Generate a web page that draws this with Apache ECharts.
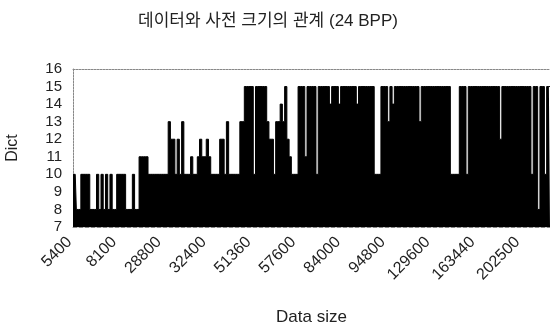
<!DOCTYPE html>
<html>
<head>
<meta charset="utf-8">
<script src="https://cdn.jsdelivr.net/npm/echarts@6/dist/echarts.min.js"></script>
<style>
  html, body { margin: 0; padding: 0; background: #fff; }
  #chart { width: 550px; height: 328px; }
</style>
</head>
<body>
<div id="chart"></div>
<script>
// x tick labels (one every 20 columns)
var tickLabels = ['5400','8100','28800','32400','51360','57600','84000','94800','129600','163440','202500'];
var labelEvery = 20;

// top of the black band per column (bottom is 7 everywhere)
var dictMax = [
  10,10,8,8,10,10,10,10,8,8,
  8,10,8,10,8,10,8,10,8,8,
  10,10,10,10,8,8,8,10,8,8,
  11,11,11,11,10,10,10,10,10,10,
  10,10,10,13,12,12,10,12,10,13,
  10,10,10,11,10,10,11,12,11,11,
  12,11,10,10,10,10,12,12,10,13,
  10,10,10,10,10,13,13,15,15,15,
  15,10,15,15,15,15,15,13,12,12,
  10,13,13,14,13,15,12,11,10,10,
  10,15,15,15,11,15,15,15,15,10,
  15,15,15,15,15,14,15,15,15,14,
  15,15,15,15,15,15,15,14,15,15,
  15,15,15,15,15,10,10,10,15,15,
  15,13,15,14,15,15,15,15,15,15,
  15,15,15,15,15,13,15,15,15,15,
  15,15,15,15,15,15,15,15,15,10,
  10,10,10,15,15,15,10,15,15,15,
  15,15,15,15,15,15,15,15,15,15,
  15,12,15,15,15,15,15,15,15,15,
  15,15,15,15,15,10,15,15,8,15,
  15,10,15,15
];

var font = "'Liberation Sans', 'Noto Sans CJK KR', sans-serif";
var columns = dictMax.map(function (v, i) { return i; });

var myChart = echarts.init(document.getElementById('chart'));

var option = {
    animation: false,
    title: {
        text: '데이터와 사전 크기의 관계 (24 BPP)',
        left: 263,
        textAlign: 'center',
        top: 8,
        textStyle: {
            fontFamily: font,
            fontSize: 17,
            fontWeight: 'normal',
            color: '#222'
        }
    },
    grid: {
        left: 73,
        right: 0,
        top: 69,
        bottom: 101,
        outerBoundsMode: 'none'
    },
    xAxis: [{
        type: 'category',
        data: columns,
        boundaryGap: false,
        name: 'Data size',
        nameLocation: 'middle',
        nameGap: 82,
        nameTextStyle: { fontFamily: font, fontSize: 17, color: '#222' },
        axisLine: { lineStyle: { color: '#888', type: 'dashed' } },
        axisTick: { show: false },
        axisLabel: {
            interval: labelEvery - 1,
            rotate: 45,
            margin: 9,
            padding: [0, 5, 0, 0],
            fontFamily: font,
            fontSize: 16,
            color: '#222',
            formatter: function (v) {
                return tickLabels[Math.round(v / labelEvery)];
            }
        },
        splitLine: { show: false }
    }, {
        // top frame line
        type: 'category',
        position: 'top',
        data: columns,
        boundaryGap: false,
        axisLine: { show: true, lineStyle: { color: '#888', type: [2, 1] } },
        axisTick: { show: false },
        axisLabel: { show: false },
        splitLine: { show: false }
    }],
    yAxis: {
        type: 'value',
        min: 7,
        max: 16,
        interval: 1,
        name: 'Dict',
        nameLocation: 'middle',
        nameGap: 52,
        nameTextStyle: { fontFamily: font, fontSize: 16, color: '#222' },
        axisLine: { show: true, lineStyle: { color: '#888', type: [2, 1] } },
        axisTick: { show: false },
        axisLabel: {
            margin: 11,
            fontFamily: font,
            fontSize: 15,
            color: '#222'
        },
        splitLine: { show: false }
    },
    series: [{
        name: 'Dict',
        type: 'line',
        step: 'middle',
        data: dictMax,
        showSymbol: false,
        lineStyle: { color: '#000', width: 1 },
        areaStyle: { color: '#000', opacity: 1 }
    }]
};
myChart.setOption(option);
</script>
</body>
</html>
